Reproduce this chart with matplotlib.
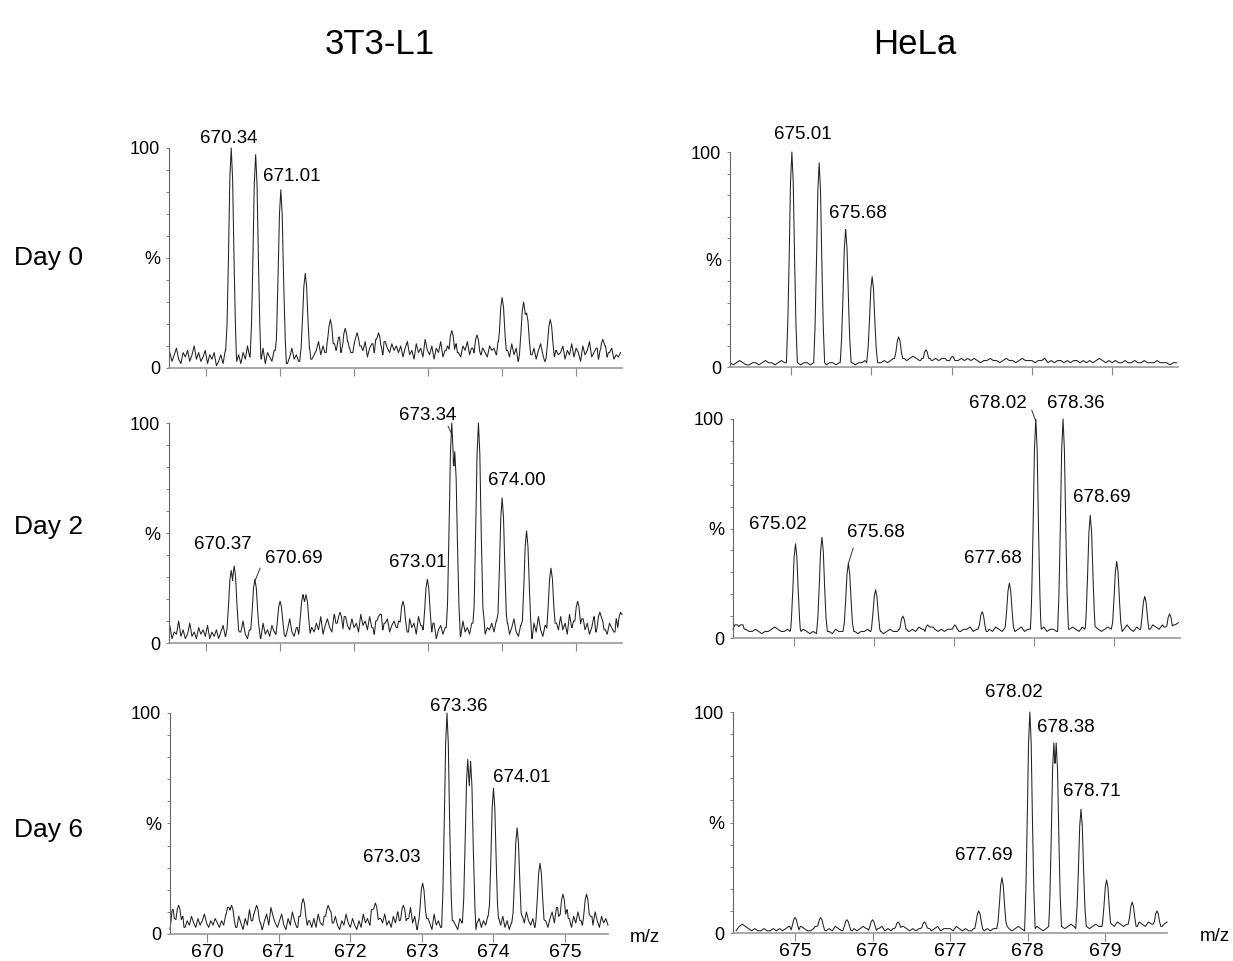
import matplotlib
matplotlib.use('Agg')
import matplotlib.pyplot as plt
import numpy as np

plt.rcParams['font.family'] = ['Liberation Sans', 'DejaVu Sans']

# column / row titles
cells = ["3T3-L1", "HeLa"]
days = ["Day 0", "Day 2", "Day 6"]

L1_X0, L1_STEP = 669.48, 0.03
HE_X0, HE_STEP = 674.24, 0.04

l1_d0_noise = [4,7,3,6,9,4,2,7,5,8,3,6,10,4,7,3,5,8,2,6,4,7,1,3,
               6,2,8,4,1,5,9,3,6,2,7,4,10,5,3,8,1,6,4,9,2,7,5,3,8,4,6,10,3,7,2,5,9,4,6,3,8,5,2,7,9,4,6,
               8,12,6,10,7,13,9,5,11,8,14,7,10,6,12,9,7,11,13,6,10,8,12,5,9,11,7,13,8,10,6,12,9,7,11,8,10,
               7,10,5,9,12,6,8,4,11,7,9,5,13,8,6,10,4,9,7,12,5,8,10,6,9,4,11,7,5,10,8,12,6,9,4,8,11,6,9,7,5,10,8,
               9,6,12,7,4,10,8,5,11,6,9,3,8,12,7,5,10,6,9,4,8,11,6,3,9,7,10,5,8,6,
               7,10,4,8,6,11,5,9,7,3,10,6,8,12,5,7,9,4,8,6,10,5,7,9,4,6,5,7]
l1_d2_noise = [3,8,2,5,4,10,3,6,2,4,9,3,5,2,7,4,6,3,8,2,5,3,6,2,
               5,8,3,6,2,9,4,7,3,5,10,4,2,6,8,3,5,7,2,9,4,6,3,8,5,2,7,4,9,3,6,11,5,3,7,4,8,2,6,9,4,7,5,
               9,6,12,4,8,11,7,5,13,9,6,10,4,12,8,6,11,7,9,5,13,8,10,6,12,7,4,10,8,13,6,9,11,5,8,10,7,
               10,6,13,8,5,11,7,9,4,12,8,6,10,3,7,5,9,2,6,8,4,7,3,9,5,2,6,8,3,10,5,7,4,9,6,3,8,5,11,4,7,6,9,
               5,10,3,8,6,2,9,4,7,11,5,3,8,6,10,4,7,2,9,5,12,6,3,8,5,10,4,7,9,6,
               12,6,9,4,13,7,10,5,8,3,11,6,9,4,7,12,5,8,3,10,6,4,9,7,5,11,3,13]
l1_d6_noise = [2,11,7,4,9,5,8,3,6,4,8,5,3,7,4,6,9,5,3,6,4,7,5,3,
               6,4,9,12,7,4,6,3,8,5,2,7,4,11,6,9,3,7,5,2,6,9,4,12,8,5,3,6,9,4,2,7,4,10,6,3,8,5,12,7,4,6,3,
               7,3,9,5,4,8,6,3,10,5,8,4,2,6,4,9,5,3,7,4,2,6,3,9,5,7,4,11,6,8,3,7,5,9,4,6,3,
               8,5,10,6,4,9,3,7,12,5,8,2,6,10,4,3,7,5,2,9,4,6,3,7,1,5,8,3,6,4,2,7,5,9,3,6,8,4,2,5,7,3,6,
               4,8,3,6,9,5,7,4,8,3,6,2,5,9,4,7,3,8,5,10,6,4,7,3,9,5,8,4,6,3,
               7,10,5,12,8,4,9,6,11,7,3,8,5,10,6,4,9,7,5,8,4,10,6,3,8,5,7,4]
he_d0_noise = [2,1,2,3,2,1,1,2,2,1,2,3,2,2,1,2,3,2,2,
               2,1,2,1,2,2,1,2,1,2,2,1,2,2,1,2,2,3,2,2,1,2,2,3,2,
               2,3,2,2,3,2,3,4,3,3,4,3,4,5,4,3,4,3,4,3,4,3,4,4,3,
               4,3,3,4,3,4,3,4,3,2,3,3,4,3,3,2,3,4,3,3,2,3,4,3,3,
               3,2,3,3,4,2,3,2,3,3,2,3,2,3,3,2,3,2,3,2,3,4,3,2,3,
               2,3,2,2,3,2,2,3,2,2,3,2,2,2,3,2,2,2,1,2,2]
he_d2_noise = [4,6,5,6,4,3,3,4,3,2,3,3,4,5,4,3,3,4,3,
               3,2,3,4,3,2,3,2,3,4,3,3,2,4,3,3,2,3,4,3,2,3,3,4,3,
               3,4,3,2,3,4,3,3,4,5,4,3,4,3,5,4,3,4,5,4,3,4,3,4,4,
               5,4,3,4,4,5,3,4,5,4,3,4,3,5,4,3,4,5,4,3,4,5,3,4,4,
               4,3,4,5,3,4,4,3,5,4,3,4,5,4,3,5,4,3,4,5,4,3,4,5,4,
               4,5,3,4,6,4,3,5,4,6,5,4,6,5,4,6,5,6,5,6,7]
he_d6_noise = [1,3,4,3,2,1,2,1,1,2,1,1,2,1,2,1,2,3,1,
               2,1,3,2,1,1,2,3,2,1,1,2,1,3,2,1,1,2,1,2,1,2,3,2,1,
               2,1,2,3,1,2,1,2,2,1,3,2,1,2,1,2,2,1,2,1,2,3,1,2,2,
               2,1,3,2,1,2,1,1,2,3,2,1,2,1,2,2,3,2,3,2,1,2,3,2,1,
               2,1,2,3,2,1,2,3,3,2,4,3,2,3,4,3,2,3,4,3,2,3,4,3,3,
               4,3,4,3,5,4,3,4,3,4,3,5,4,3,5,4,3,4,3,4,5]

# isotope peaks (m/z, % height)
l1_d0_peaks = [(670.34, 100), (670.67, 97), (671.01, 81), (671.34, 43), (671.68, 22),
               (671.88, 18), (672.04, 16), (672.33, 16), (673.32, 17), (673.66, 15),
               (674.00, 32), (674.29, 30), (674.33, 25), (674.65, 22), (675.36, 13)]
l1_d2_peaks = [(670.34, 33), (670.38, 35), (670.66, 29), (671.00, 19), (671.31, 22),
               (671.35, 22), (671.81, 14), (672.33, 12), (672.66, 19), (672.99, 29),
               (673.32, 100), (673.36, 87), (673.68, 100), (674.00, 66), (674.33, 51),
               (674.66, 34), (675.02, 19), (675.32, 14), (675.60, 14)]
l1_d6_peaks = [(669.60, 13), (670.34, 13), (670.69, 13), (671.34, 16), (671.69, 13),
               (672.35, 14), (672.74, 13), (673.01, 23), (673.35, 100), (673.64, 79),
               (673.68, 78), (674.00, 66), (674.33, 48), (674.65, 32), (674.97, 18),
               (675.30, 18)]
he_d0_peaks = [(675.01, 100), (675.35, 95), (675.68, 64), (676.01, 42), (676.34, 14),
               (676.68, 8), (677.01, 5)]
he_d2_peaks = [(674.33, 6), (675.02, 43), (675.35, 46), (675.68, 34), (676.02, 22),
               (676.36, 10), (676.67, 6), (677.01, 6), (677.35, 12), (677.69, 25),
               (678.02, 100), (678.36, 100), (678.70, 56), (679.03, 35), (679.38, 19),
               (679.69, 11)]
he_d6_peaks = [(675.00, 7), (675.33, 7), (675.67, 6), (676.00, 6), (676.33, 5),
               (676.67, 5), (677.37, 10), (677.67, 25), (678.03, 100), (678.34, 86),
               (678.37, 86), (678.69, 56), (679.02, 24), (679.35, 14), (679.67, 10)]

# peak labels (text, m/z, %) and leader lines (m/z, % -> m/z, %)
l1_d0_labels = [("670.34", 670.31, 104.5), ("671.01", 671.16, 87)]
l1_d2_labels = [("673.34", 673.00, 103.5), ("674.00", 674.20, 74), ("670.37", 670.23, 45),
                ("670.69", 671.18, 38.5), ("673.01", 672.86, 36.5)]
l1_d6_labels = [("673.36", 673.52, 102.7), ("674.01", 674.39, 70.6), ("673.03", 672.58, 34.8)]
he_d0_labels = [("675.01", 675.15, 108), ("675.68", 675.83, 71.6)]
he_d2_labels = [("675.02", 674.80, 51.6), ("675.68", 676.02, 48), ("677.68", 677.48, 36.5),
                ("678.02", 677.55, 107), ("678.36", 678.52, 107), ("678.69", 678.85, 64)]
he_d6_labels = [("678.02", 677.82, 108.6), ("678.38", 678.50, 93), ("678.71", 678.83, 64),
                ("677.69", 677.43, 35)]

l1_d2_leaders = [((673.27, 98.5), (673.32, 95)), ((670.73, 34), (670.665, 28.5))]
he_d2_leaders = [((675.74, 41), (675.68, 34)), ((677.97, 104), (678.02, 99))]

# simple peak profile (offset in half-widths, fraction of height)
SHAPE_OFF = np.array([-1, -0.75, -0.5, -0.25, 0, 0.25, 0.5, 0.75, 1])
SHAPE_FRAC = np.array([0, 0.2, 0.5, 0.86, 1, 0.86, 0.5, 0.2, 0])


def trace(noise, x0, step, peaks, hw, xlim):
    noise = np.asarray(noise, dtype=float)
    xs = x0 + step * np.arange(len(noise))
    px = np.array([mz + o * hw for mz, h in peaks for o in SHAPE_OFF])
    x = np.sort(np.concatenate([xs, px]))
    x = x[(x >= xlim[0]) & (x <= xlim[1])]
    idx = np.clip(np.round((x - x0) / step).astype(int), 0, len(noise) - 1)
    y = noise[idx]
    for mz, h in peaks:
        y = np.maximum(y, h * np.interp(x, mz + hw * SHAPE_OFF, SHAPE_FRAC, left=0, right=0))
    return x, y


panels = [
    # (rect in fig fraction, xlim, noise, x0, step, peaks, labels, leaders)
    ([0.1371, 0.6171, 0.3674, 0.2289], (669.50, 675.62), l1_d0_noise, L1_X0, L1_STEP, l1_d0_peaks, l1_d0_labels, []),
    ([0.1371, 0.3309, 0.3674, 0.2289], (669.50, 675.62), l1_d2_noise, L1_X0, L1_STEP, l1_d2_peaks, l1_d2_labels, l1_d2_leaders),
    ([0.1379, 0.0281, 0.3552, 0.2300], (669.48, 675.60), l1_d6_noise, L1_X0, L1_STEP, l1_d6_peaks, l1_d6_labels, []),
    ([0.5921, 0.6181, 0.3633, 0.2237], (674.24, 679.82), he_d0_noise, HE_X0, HE_STEP, he_d0_peaks, he_d0_labels, []),
    ([0.5945, 0.3361, 0.3625, 0.2279], (674.24, 679.82), he_d2_noise, HE_X0, HE_STEP, he_d2_peaks, he_d2_labels, he_d2_leaders),
    ([0.5945, 0.0291, 0.3520, 0.2300], (674.20, 679.80), he_d6_noise, HE_X0, HE_STEP, he_d6_peaks, he_d6_labels, []),
]
mz_offset = [0, 0, 0.05, 0, 0, 0.076]

fig = plt.figure(figsize=(12.33, 9.61), dpi=100)

for i, (rect, xlim, noise, x0, step, peaks, labels, leaders) in enumerate(panels):
    ax = fig.add_axes(rect)
    x, y = trace(noise, x0, step, peaks, 0.075 if i < 3 else 0.068, xlim)
    ax.plot(x, y, color='#222222', lw=0.75, clip_on=False)
    ax.set_xlim(*xlim)
    ax.set_ylim(0, 100)
    for s in ['top', 'right']:
        ax.spines[s].set_visible(False)
    ax.spines['left'].set_color('#666666')
    ax.spines['left'].set_linewidth(0.8)
    ax.spines['bottom'].set_color('#999999')
    ax.spines['bottom'].set_linewidth(1.2)
    first = int(np.ceil(xlim[0]))
    ax.set_xticks(np.arange(first, int(xlim[1]) + 1))
    ax.set_yticks([0, 50, 100])
    ax.set_yticklabels(['0', '%', '100'])
    ax.set_yticks(np.arange(10, 100, 10), minor=True)
    ax.tick_params(axis='y', which='both', length=2.5, width=0.6, color='#666666',
                   labelsize=13, pad=4)
    ax.tick_params(axis='x', length=6, width=0.8, color='#888888', labelsize=14, pad=1.5)
    if i % 3 != 2:
        ax.tick_params(axis='x', labelbottom=False)
    else:
        ax.text(1 + mz_offset[i], -0.015, "m/z", transform=ax.transAxes, fontsize=13.5,
                ha='left', va='center')
    for txt, tx, ty in labels:
        ax.text(tx, ty, txt, fontsize=13.5, ha='center', va='center')
    for (xa, ya), (xb, yb) in leaders:
        ax.plot([xa, xb], [ya, yb], color='#333333', lw=0.7, clip_on=False)

fig.text(380 / 1233, 1 - 45 / 961, cells[0], fontsize=25, ha='center', va='center')
fig.text(915 / 1233, 1 - 45 / 961, cells[1], fontsize=25, ha='center', va='center')
for day, ypx in zip(days, [258, 527, 830]):
    fig.text(14 / 1233, 1 - ypx / 961, day, fontsize=19, ha='left', va='center')

fig.savefig('out.png', dpi=100)
